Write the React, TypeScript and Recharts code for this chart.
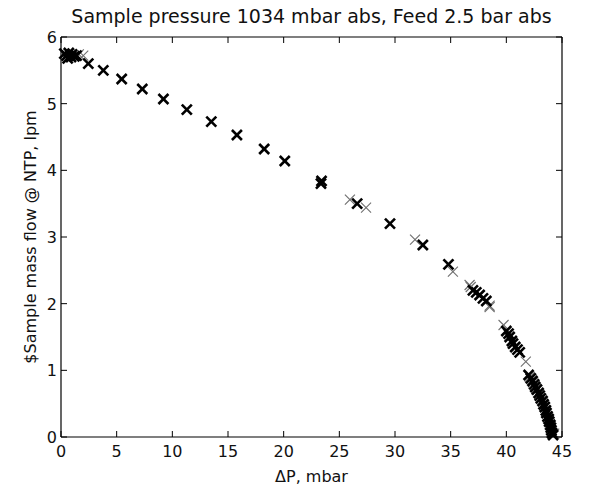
import React from 'react';
import {
  ScatterChart,
  Scatter,
  XAxis,
  YAxis,
  ReferenceLine,
} from 'recharts';

// dark, heavy markers (dP mbar, flow lpm)
const boldPoints = [
  [0.3, 5.75], [0.5, 5.72], [0.7, 5.76], [0.9, 5.7], [1.0, 5.74], [1.2, 5.71],
  [1.4, 5.72], [0.6, 5.68], [2.45, 5.6], [3.8, 5.5], [5.45, 5.37], [7.3, 5.22],
  [9.2, 5.07], [11.3, 4.91], [13.5, 4.73], [15.8, 4.53], [18.25, 4.32], [20.1, 4.14],
  [23.35, 3.8], [23.4, 3.84], [26.6, 3.5], [29.55, 3.2], [32.5, 2.88], [34.8, 2.59],
  [37.0, 2.2], [37.3, 2.17], [37.6, 2.13], [37.9, 2.08], [38.2, 2.04],
  [40.0, 1.59], [40.2, 1.55], [40.3, 1.5], [40.5, 1.44], [40.6, 1.4], [40.8, 1.35],
  [41.0, 1.31], [41.2, 1.27], [42.0, 0.93], [42.2, 0.88], [42.35, 0.84], [42.5, 0.79],
  [42.6, 0.75], [42.75, 0.71], [42.9, 0.66], [43.0, 0.62], [43.1, 0.58], [43.25, 0.54],
  [43.35, 0.49], [43.45, 0.45], [43.55, 0.4], [43.6, 0.36], [43.7, 0.31], [43.8, 0.27],
  [43.85, 0.23], [43.95, 0.18], [44.0, 0.14], [44.05, 0.1], [44.1, 0.06], [44.2, 0.03],
];

// light, thin markers
const lightPoints = [
  [2.0, 5.72], [1.6, 5.74], [25.95, 3.56], [27.4, 3.44], [31.8, 2.96], [35.2, 2.48],
  [36.7, 2.28], [36.8, 2.25], [38.5, 1.97], [38.5, 1.95], [39.75, 1.68], [41.75, 1.13],
  [42.1, 0.9], [42.4, 0.82], [42.7, 0.72], [43.3, 0.5], [43.7, 0.3], [43.9, 0.2],
  [44.0, 0.12], [44.3, 0.05],
];

const xTicks = [0, 5, 10, 15, 20, 25, 30, 35, 40, 45];
const yTicks = [0, 1, 2, 3, 4, 5, 6];

const title = 'Sample pressure 1034 mbar abs, Feed 2.5 bar abs';
const xLabel = '\u0394P, mbar';
const yLabel = '$Sample mass flow @ NTP, lpm';

const toRows = (pts: number[][]) => pts.map(([dp, flow]) => ({ dp, flow }));

const W = 583;
const H = 479;
const M = { top: 29, right: 29, left: 0, bottom: 0 };
const Y_AXIS_W = 53;
const X_AXIS_H = 50;
const PLOT_W = W - M.left - M.right - Y_AXIS_W;
const PLOT_H = H - M.top - M.bottom - X_AXIS_H;
const FONT = 'DejaVu Sans, sans-serif';
const TICK = 6;

const XMark = (props: any) => {
  const { cx, cy, color, width, r } = props;
  if (cx == null || cy == null) return null;
  return (
    <g>
      <line x1={cx - r} y1={cy - r} x2={cx + r} y2={cy + r} stroke={color} strokeWidth={width} />
      <line x1={cx - r} y1={cy + r} x2={cx + r} y2={cy - r} stroke={color} strokeWidth={width} />
    </g>
  );
};

const BottomTick = (props: any) => {
  const { x, y, payload } = props;
  return (
    <g>
      <line x1={x} y1={y} x2={x} y2={y - TICK} stroke="#000" />
      <line x1={x} y1={y - PLOT_H} x2={x} y2={y - PLOT_H + TICK} stroke="#000" />
      <text x={x} y={y + 20} textAnchor="middle" fontSize={16} fontFamily={FONT} fill="#111">
        {payload.value}
      </text>
    </g>
  );
};

const LeftTick = (props: any) => {
  const { x, y, payload } = props;
  return (
    <g>
      <line x1={x} y1={y} x2={x + TICK} y2={y} stroke="#000" />
      <line x1={x + PLOT_W} y1={y} x2={x + PLOT_W - TICK} y2={y} stroke="#000" />
      <text x={x - 4} y={y + 6} textAnchor="end" fontSize={16} fontFamily={FONT} fill="#111">
        {payload.value}
      </text>
    </g>
  );
};

export default function App(): React.JSX.Element {
  return (
    <div style={{ position: 'relative', width: W, height: H }}>
      <div
        style={{
          position: 'absolute',
          top: -1,
          left: M.left + Y_AXIS_W,
          width: PLOT_W,
          textAlign: 'center',
          fontFamily: FONT,
          fontSize: 19,
          lineHeight: '19px',
          color: '#111',
          whiteSpace: 'nowrap',
        }}
      >
        {title}
      </div>
      <ScatterChart width={W} height={H} margin={M}>
        <XAxis
          type="number"
          dataKey="dp"
          domain={[0, 45]}
          ticks={xTicks}
          interval={0}
          height={X_AXIS_H}
          tickSize={0}
          tickMargin={0}
          tickLine={false}
          tick={<BottomTick />}
          axisLine={{ stroke: '#000', strokeWidth: 1.2 }}
          label={{
            value: xLabel,
            position: 'insideBottom',
            offset: 5,
            fontSize: 16,
            fontFamily: FONT,
            fill: '#111',
          }}
        />
        <YAxis
          type="number"
          dataKey="flow"
          domain={[0, 6]}
          ticks={yTicks}
          interval={0}
          width={Y_AXIS_W}
          tickSize={0}
          tickMargin={0}
          tickLine={false}
          tick={<LeftTick />}
          axisLine={{ stroke: '#000', strokeWidth: 1.2 }}
          label={{
            value: yLabel,
            angle: -90,
            position: 'insideLeft',
            offset: 22,
            fontSize: 16,
            fontFamily: FONT,
            fill: '#111',
            style: { textAnchor: 'middle' },
          }}
        />
        <ReferenceLine y={6} stroke="#000" strokeWidth={1.2} />
        <ReferenceLine x={45} stroke="#000" strokeWidth={1.2} />
        <Scatter
          data={toRows(lightPoints)}
          isAnimationActive={false}
          shape={(p: any) => <XMark {...p} color="#6f6f6f" width={1.1} r={5} />}
        />
        <Scatter
          data={toRows(boldPoints)}
          isAnimationActive={false}
          shape={(p: any) => <XMark {...p} color="#000" width={2.6} r={5} />}
        />
      </ScatterChart>
    </div>
  );
}
